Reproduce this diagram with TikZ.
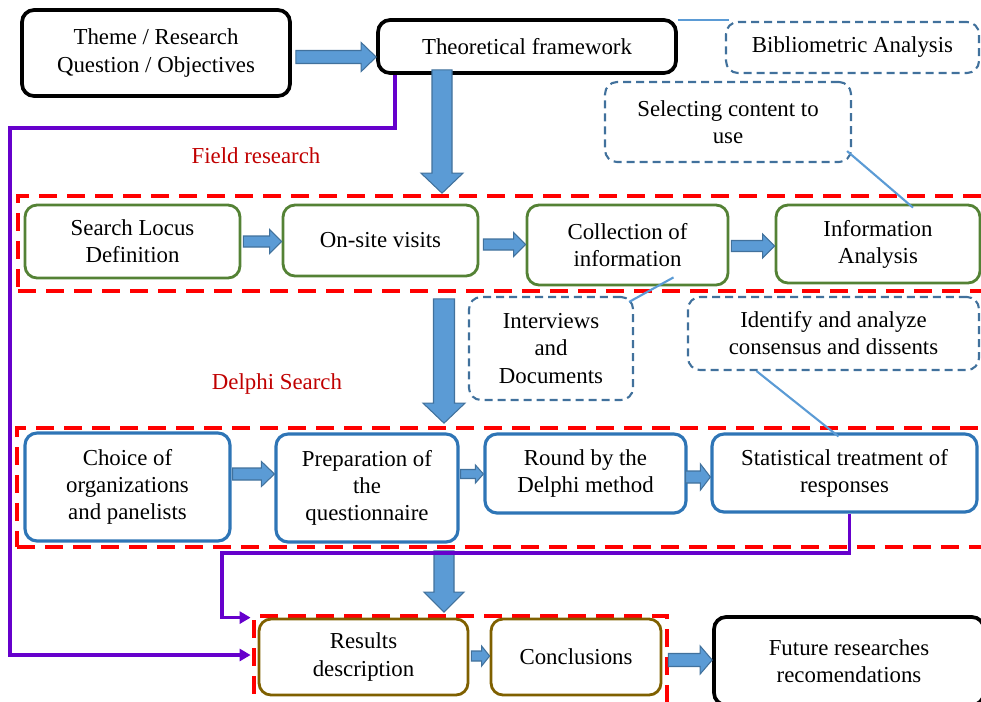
\documentclass[tikz,border=0pt]{standalone}
\usepackage{fontspec}
\setmainfont{Liberation Serif}
\usetikzlibrary{calc,arrows.meta}

\definecolor{boxgreen}{RGB}{84,130,53}
\definecolor{boxblue}{RGB}{46,117,182}
\definecolor{boxolive}{RGB}{127,96,0}
\definecolor{notecol}{RGB}{65,113,156}
\definecolor{arrfill}{RGB}{91,155,213}
\definecolor{arrline}{RGB}{65,113,156}
\definecolor{linkcol}{RGB}{91,155,213}
\definecolor{purp}{RGB}{102,0,204}
\definecolor{darkred}{RGB}{192,0,0}

\tikzset{
	box/.style={rounded corners=0.24cm, align=center, font=\fontsize{13}{15.4}\selectfont, inner sep=0pt},
	blackbox/.style={box, draw=black, line width=2.1pt},
	greenbox/.style={box, draw=boxgreen, line width=1.6pt},
	bluebox/.style={box, draw=boxblue, line width=1.8pt},
	olivebox/.style={box, draw=boxolive, line width=1.6pt},
	notebox/.style={box, draw=notecol, line width=1.2pt, dash pattern=on 0.16cm off 0.1cm},
	phase/.style={draw=red, line width=2.1pt, dash pattern=on 0.36cm off 0.2cm, inner sep=0pt},
	phaselabel/.style={text=darkred, font=\fontsize{13}{15.4}\selectfont},
	blockarrow/.style={fill=arrfill, draw=arrline, line width=0.6pt},
	link/.style={draw=linkcol, line width=1.2pt},
	backlink/.style={draw=purp, line width=2.1pt, -{Triangle[length=0.22cm, width=0.24cm]}},
}

% block arrow to the right: from, to, shaft half, head half, head length
\newcommand\blockright[5]{\draw[blockarrow] let \p1=(#1), \p2=(#2) in (\x1,\y1+#3) -- (\x2-#5,\y1+#3) -- (\x2-#5,\y1+#4) -- (\x2,\y1) -- (\x2-#5,\y1-#4) -- (\x2-#5,\y1-#3) -- (\x1,\y1-#3) -- cycle;}
% block arrow downwards: from, to, shaft half, head half, head length
\newcommand\blockdown[5]{\draw[blockarrow] let \p1=(#1), \p2=(#2) in (\x1-#3,\y1) -- (\x1-#3,\y2+#5) -- (\x1-#4,\y2+#5) -- (\x1,\y2) -- (\x1+#4,\y2+#5) -- (\x1+#3,\y2+#5) -- (\x1+#3,\y1) -- cycle;}

\begin{document}
\begin{tikzpicture}[x=0.02cm, y=-0.02cm]
			%%%%% START %%%%%
			\useasboundingbox (0,0) rectangle (981,701);
			
			% phases
			\node[phase, minimum width=19.32cm, minimum height=1.9cm] (field) at (501,243.5) {};
			\node[phase, minimum width=19.34cm, minimum height=2.38cm] (delphi) at (500.5,487.5) {};
			\node[phase, minimum width=8.26cm, minimum height=1.88cm] (concl) at (460.5,663) {};
			\node[phaselabel] (fieldlbl) at (256,156) {Field research};
			\node[phaselabel] (delphilbl) at (277,384) {Delphi Search};
			
			% top row
			\node[blackbox, minimum width=5.36cm, minimum height=1.72cm] (theme) at (156,53) {Theme / Research\\Question / Objectives};
			\node[blackbox, minimum width=5.96cm, minimum height=1.06cm] (tf) at (527,46.5) {Theoretical framework};
			\node[notebox, minimum width=5.06cm, minimum height=1.02cm] (biblio) at (852.5,47.5) {Bibliometric Analysis};
			\node[notebox, minimum width=4.92cm, minimum height=1.6cm] (sel) at (728,122) {Selecting content to\\use};
			
			% field research
			\node[greenbox, minimum width=4.3cm, minimum height=1.46cm] (locus) at (132.5,241.5) {Search Locus\\Definition};
			\node[greenbox, minimum width=3.9cm, minimum height=1.42cm] (visits) at (380.5,240.5) {On-site visits};
			\node[greenbox, minimum width=4.02cm, minimum height=1.6cm] (coll) at (627.5,245) {Collection of\\information};
			\node[greenbox, minimum width=4.08cm, minimum height=1.56cm] (ia) at (878,244) {Information\\Analysis};
			
			\node[notebox, minimum width=3.28cm, minimum height=2.06cm] (intv) at (551,348.5) {Interviews\\and\\Documents};
			\node[notebox, minimum width=5.82cm, minimum height=1.46cm] (ident) at (833.5,333.5) {Identify and analyze\\consensus and dissents};
			
			% delphi search
			\node[bluebox, minimum width=4.1cm, minimum height=2.16cm] (choice) at (127.5,487) {Choice of\\organizations\\and panelists};
			\node[bluebox, minimum width=3.64cm, minimum height=2.16cm] (prep) at (367,488) {Preparation of\\the\\questionnaire};
			\node[bluebox, minimum width=4.02cm, minimum height=1.58cm] (round) at (585.5,473.5) {Round by the\\Delphi method};
			\node[bluebox, minimum width=5.3cm, minimum height=1.56cm] (stat) at (844.5,473) {Statistical treatment of\\responses};
			
			% conclusions
			\node[olivebox, minimum width=4.18cm, minimum height=1.52cm] (res) at (363.5,657) {Results\\description};
			\node[olivebox, minimum width=3.4cm, minimum height=1.52cm] (conc) at (576,657) {Conclusions};
			\node[blackbox, minimum width=5.4cm, minimum height=1.76cm] (fut) at (849,661) {Future researches\\recomendations};
			
			% block arrows
			\coordinate (colA) at (442,0);
			\coordinate (colB) at (444,0);
			\blockright{$(theme.east)+(4,4)$}{tf.west}{0.13cm}{0.29cm}{0.3cm}
			\blockright{$(locus.east)+(2,0)$}{visits.west}{0.11cm}{0.24cm}{0.24cm}
			\blockright{$(visits.east)+(4,4)$}{coll.west}{0.11cm}{0.24cm}{0.24cm}
			\blockright{$(coll.east)+(2,1)$}{ia.west}{0.11cm}{0.24cm}{0.24cm}
			\blockright{$(choice.east)+(1,-13)$}{prep.west}{0.12cm}{0.25cm}{0.26cm}
			\blockright{$(prep.east)+(1,-14)$}{round.west}{0.09cm}{0.18cm}{0.16cm}
			\blockright{$(round.east)+(-2,3.5)$}{stat.west}{0.12cm}{0.26cm}{0.2cm}
			\blockright{$(res.east)+(2,-1)$}{conc.west}{0.1cm}{0.2cm}{0.16cm}
			\blockright{$(conc.east)+(6,3)$}{fut.west}{0.13cm}{0.28cm}{0.24cm}
			\blockdown{$(tf.south -| colA)+(0,-5)$}{$(field.north -| colA)+(0,-1)$}{0.2cm}{0.42cm}{0.4cm}
			\blockdown{$(field.south -| colB)+(0,6)$}{$(delphi.north -| colB)+(0,-3)$}{0.21cm}{0.42cm}{0.4cm}
			\blockdown{$(delphi.south -| colB)+(0,2)$}{$(concl.north -| colB)+(0,-2)$}{0.2cm}{0.4cm}{0.4cm}
			
			% links to notes
			\draw[link] ($(tf.north east)+(0,2)$) -- ($(tf.north east -| biblio.north west)+(4,2)$);
			\draw[link] ($(sel.south east)+(-5,-12)$) -- ($(ia.north)+(35,4)$);
			\draw[link] ($(coll.south)+(46,-9)$) -- ($(intv.north east)+(-5,6)$);
			\draw[link] ($(ident.south)+(-77,0)$) -- ($(stat.north)+(-6,4)$);
			
			% feedback lines
			\coordinate (pc1) at (222,553);
			\coordinate (pc2) at (10,128);
			\coordinate (pa1) at ($(res.north west)+(-7,0)$);
			\coordinate (pa2) at ($(res.west)+(-7,-2)$);
			\draw[backlink] ($(stat.south)+(5,0)$) |- (pc1) |- (pa1);
			\draw[backlink] ($(tf.south west)+(19,0)$) |- (pc2) |- (pa2);
			
			%%%%% END %%%%%
\end{tikzpicture}
\end{document}
